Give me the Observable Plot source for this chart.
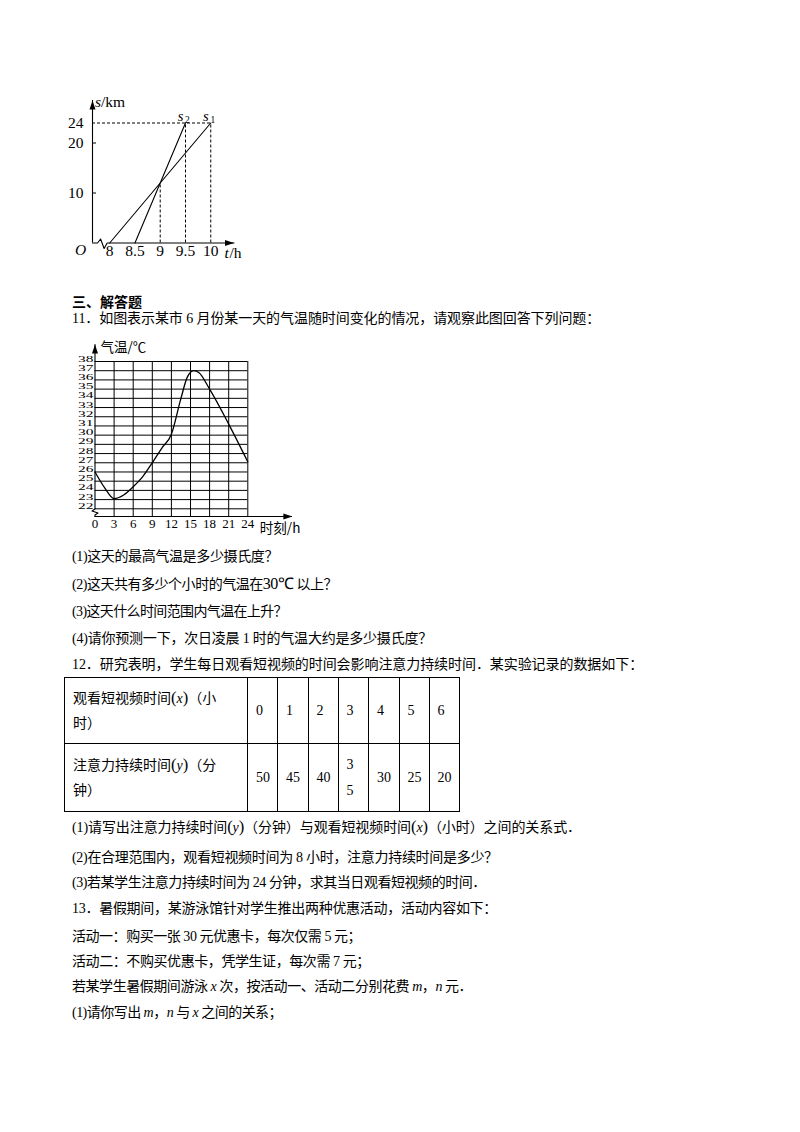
<!DOCTYPE html>
<html lang="zh">
<head>
<meta charset="utf-8">
<script src="https://cdn.jsdelivr.net/npm/d3@7"></script>
<script src="https://cdn.jsdelivr.net/npm/@observablehq/plot@0.6"></script>
<style>
html,body{margin:0;padding:0;background:#fff;}
body{width:800px;height:1132px;position:relative;overflow:hidden;font-family:"Liberation Serif","Noto Sans CJK SC",serif;color:#000;}
.ln{position:absolute;left:72px;font-size:14px;line-height:20px;height:20px;white-space:nowrap;margin-top:-10px;}
.i{font-style:italic;font-family:"Liberation Serif",serif;}
.b{font-weight:bold;}
.p{font-family:"Liberation Serif",serif;font-size:16.5px;}
.big{font-family:"Liberation Serif",serif;font-size:16px;}
#tbl{position:absolute;left:64px;top:677px;border-collapse:collapse;table-layout:fixed;width:395px;font-size:14px;}
#tbl td{border:1.3px solid #000;padding:0 0 0 8px;vertical-align:middle;line-height:25.5px;overflow:hidden;white-space:nowrap;}
.chart{position:absolute;left:0;}
.chart svg{overflow:visible;}
</style>
</head>
<body>
<div id="c1" class="chart" style="top:0"></div>
<div id="c2" class="chart" style="top:330px"></div>

<div class="ln b" style="top:302.5px" data-end="142">三、解答题</div>
<div class="ln" style="top:319px" data-end="600">11．如图表示某市 6 月份某一天的气温随时间变化的情况，请观察此图回答下列问题：</div>
<div class="ln" style="top:556.5px" data-end="278">(1)这天的最高气温是多少摄氏度？</div>
<div class="ln" style="top:584px" data-end="337">(2)这天共有多少个小时的气温在<span class="big">30℃</span> 以上？</div>
<div class="ln" style="top:611.5px" data-end="287">(3)这天什么时间范围内气温在上升？</div>
<div class="ln" style="top:639px" data-end="432">(4)请你预测一下，次日凌晨 1 时的气温大约是多少摄氏度？</div>
<div class="ln" style="top:665px" data-end="643">12．研究表明，学生每日观看短视频的时间会影响注意力持续时间．某实验记录的数据如下：</div>

<table id="tbl"></table>

<div class="ln" style="top:827px" data-end="581">(1)请写出注意力持续时间<span class="p">(</span><span class="i">y</span><span class="p">)</span>（分钟）与观看短视频时间<span class="p">(</span><span class="i">x</span><span class="p">)</span>（小时）之间的关系式．</div>
<div class="ln" style="top:857.5px" data-end="498">(2)在合理范围内，观看短视频时间为 8 小时，注意力持续时间是多少？</div>
<div class="ln" style="top:883px" data-end="486">(3)若某学生注意力持续时间为 24 分钟，求其当日观看短视频的时间．</div>
<div class="ln" style="top:908.5px" data-end="497">13．暑假期间，某游泳馆针对学生推出两种优惠活动，活动内容如下：</div>
<div class="ln" style="top:936.5px" data-end="361">活动一：购买一张 30 元优惠卡，每次仅需 5 元；</div>
<div class="ln" style="top:961.5px" data-end="370">活动二：不购买优惠卡，凭学生证，每次需 7 元；</div>
<div class="ln" style="top:987px" data-end="472">若某学生暑假期间游泳 <span class="i">x</span> 次，按活动一、活动二分别花费 <span class="i">m</span>，<span class="i">n</span> 元．</div>
<div class="ln" style="top:1013px" data-end="282">(1)请你写出 <span class="i">m</span>，<span class="i">n</span> 与 <span class="i">x</span> 之间的关系；</div>

<script>
// ---------- Chart 1 data: distance s (km) vs time t (h) ----------
const tTicks1 = [8, 8.5, 9, 9.5, 10];
const sTicks1 = [10, 20, 24];
const sMinorTicks1 = [10, 20];
const s1Line = [{t: 8, s: 0}, {t: 10, s: 24}];
const s2Line = [{t: 8.5, s: 0}, {t: 9.5, s: 24}];
const guideV1 = [{t: 9, s: 12}, {t: 9.5, s: 24}, {t: 10, s: 24}];
const guideH1 = [{t: 10, s: 24}];
const seriesLabels1 = [{t: 9.5, s: 24, sub: "2"}, {t: 10, s: 24, sub: "1"}];

// ---------- Chart 2 data: temperature (°C) vs hour ----------
const hours2 = [0, 3, 6, 9, 12, 15, 18, 21, 24];
const tempTicks2 = [22, 23, 24, 25, 26, 27, 28, 29, 30, 31, 32, 33, 34, 35, 36, 37, 38];
const tempCurve = [
  {h: 0, c: 26}, {h: 1.5, c: 24.3}, {h: 3, c: 23.1}, {h: 4.5, c: 23.5}, {h: 6, c: 24.4},
  {h: 7.5, c: 25.5}, {h: 9, c: 27}, {h: 10.5, c: 28.6}, {h: 12, c: 30.1}, {h: 13.5, c: 34},
  {h: 14.5, c: 36.3}, {h: 15.5, c: 37}, {h: 16.3, c: 36.8}, {h: 18, c: 35}, {h: 21, c: 31.2}, {h: 24, c: 27.1}
];

// ---------- Table data ----------
const tableX = [0, 1, 2, 3, 4, 5, 6];
const tableY = [50, 45, 40, 35, 30, 25, 20];
const tableWrapped = [35];

// ---------- layout helpers ----------
const arrowUp = {draw(ctx) { ctx.moveTo(0, 0); ctx.lineTo(3, 9); ctx.lineTo(-3, 9); ctx.closePath(); }};
const arrowRight = {draw(ctx) { ctx.moveTo(0, 0); ctx.lineTo(-9, -3); ctx.lineTo(-9, 3); ctx.closePath(); }};
const serif = "Liberation Serif";

// Chart 1 frame (axis origin is at t0 with an axis break)
const c1 = {t0: 7.66, tTip: 10.46, sTip: 28.5};
const xBreak1 = [{t: c1.t0, s: 0}, {t: 7.76, s: 0}, {t: 7.82, s: 0.8}, {t: 7.89, s: -1.1}, {t: 7.95, s: 0}, {t: c1.tTip, s: 0}];

const chart1 = Plot.plot({
  width: 800, height: 270,
  x: {domain: [c1.t0, c1.tTip], range: [92, 233.5], axis: null},
  y: {domain: [0, 24], range: [242.5, 122.5], axis: null},
  marks: [
    Plot.ruleX(guideV1, {x: "t", y1: () => 0, y2: "s", stroke: "#000", strokeWidth: 1, strokeDasharray: "3,2"}),
    Plot.ruleY(guideH1, {y: "s", x1: () => c1.t0, x2: "t", stroke: "#000", strokeWidth: 1, strokeDasharray: "3,2"}),
    Plot.line(s1Line, {x: "t", y: "s", stroke: "#000", strokeWidth: 1.1}),
    Plot.line(s2Line, {x: "t", y: "s", stroke: "#000", strokeWidth: 1.1}),
    // axes
    Plot.line(xBreak1, {x: "t", y: "s", stroke: "#000", strokeWidth: 1.1}),
    Plot.ruleX([c1.t0], {x: d => d, y1: () => 0, y2: () => c1.sTip, stroke: "#000", strokeWidth: 1.1}),
    Plot.dot([c1.t0], {x: d => d, y: () => c1.sTip, symbol: arrowUp, fill: "#000", stroke: "none"}),
    Plot.dot([c1.tTip], {x: d => d, y: () => 0, symbol: arrowRight, fill: "#000", stroke: "none"}),
    Plot.ruleY(sMinorTicks1, {y: d => d, x1: () => c1.t0, x2: () => c1.t0 + 0.08, stroke: "#000", strokeWidth: 1}),
    // tick labels
    Plot.text(sTicks1, {x: () => c1.t0, y: d => d, text: d => String(d), textAnchor: "end", dx: -9, fontSize: 15.5, fontFamily: serif, fill: "#000"}),
    Plot.text(tTicks1, {x: d => d, y: () => 0, text: d => String(d), dy: 8.5, fontSize: 15.5, fontFamily: serif, fill: "#000"}),
    Plot.text(["O"], {x: () => c1.t0, y: () => 0, text: d => d, dx: -12, dy: 7, fontSize: 15.5, fontStyle: "italic", fontFamily: serif, fill: "#000"}),
    // axis titles
    Plot.text(["s"], {x: () => c1.t0, y: () => c1.sTip, text: d => d, textAnchor: "start", dx: 2.5, dy: 2, fontSize: 15.5, fontStyle: "italic", fontFamily: serif, fill: "#000"}),
    Plot.text(["/km"], {x: () => c1.t0, y: () => c1.sTip, text: d => d, textAnchor: "start", dx: 8.5, dy: 2, fontSize: 15.5, fontFamily: serif, fill: "#000"}),
    Plot.text(["t"], {x: () => c1.tTip, y: () => 0, text: d => d, textAnchor: "start", dx: -9.5, dy: 10, fontSize: 15.5, fontStyle: "italic", fontFamily: serif, fill: "#000"}),
    Plot.text(["/h"], {x: () => c1.tTip, y: () => 0, text: d => d, textAnchor: "start", dx: -4.5, dy: 10, fontSize: 15.5, fontFamily: serif, fill: "#000"}),
    // series labels s2, s1
    Plot.text(seriesLabels1, {x: "t", y: "s", text: () => "s", textAnchor: "middle", dx: -5, dy: -7, fontSize: 14.5, fontStyle: "italic", fontFamily: serif, fill: "#000"}),
    Plot.text(seriesLabels1, {x: "t", y: "s", text: "sub", textAnchor: "middle", dx: 2, dy: -3.5, fontSize: 9.5, fontFamily: serif, fill: "#000"})
  ]
});
document.getElementById("c1").append(chart1);

// Chart 2 frame
const c2 = {axisC: 21.16, cTip: 39.85, hTip: 31.0};
const yBreak2 = [{h: 0, c: c2.axisC}, {h: 0, c: 21.33}, {h: 0.47, c: 21.54}, {h: -0.47, c: 21.76}, {h: 0, c: 21.98}, {h: 0, c: c2.cTip}];

const chart2 = Plot.plot({
  width: 800, height: 215,
  x: {domain: [0, 24], range: [94.5, 247.3], axis: null},
  y: {domain: [22, 38], range: [178.3, 31], axis: null},
  marks: [
    // grid
    Plot.ruleY(tempTicks2, {y: d => d, x1: () => 0, x2: () => 24, stroke: "#000", strokeWidth: 1}),
    Plot.ruleX(hours2.filter(h => h > 0), {x: d => d, y1: () => c2.axisC, y2: () => 38, stroke: "#000", strokeWidth: 1}),
    // axes
    Plot.line(yBreak2, {x: "h", y: "c", stroke: "#000", strokeWidth: 1.1}),
    Plot.ruleY([c2.axisC], {y: d => d, x1: () => 0, x2: () => c2.hTip, stroke: "#000", strokeWidth: 1.1}),
    Plot.dot([0], {x: d => d, y: () => c2.cTip, symbol: arrowUp, fill: "#000", stroke: "none"}),
    Plot.dot([c2.hTip], {x: d => d, y: () => c2.axisC, symbol: arrowRight, fill: "#000", stroke: "none"}),
    // curve
    Plot.line(tempCurve, {x: "h", y: "c", curve: "monotone-x", stroke: "#000", strokeWidth: 1.3}),
    // tick labels
    Plot.text(hours2, {x: d => d, y: () => c2.axisC, text: d => String(d), dy: 7, fontSize: 13, fontFamily: serif, fill: "#000"}),
    Plot.text(tempTicks2, {x: () => 0, y: d => d, text: d => String(d), textAnchor: "end", dx: -1.5, fontSize: 14, fontFamily: serif, fill: "#000"}),
    // axis titles
    Plot.text(["气温/℃"], {x: () => 0, y: () => c2.cTip, text: d => d, textAnchor: "start", dx: 5.5, dy: 3, fontSize: 13.5, fontFamily: "Noto Sans CJK SC", fill: "#000"}),
    Plot.text(["时刻/h"], {x: () => c2.hTip, y: () => c2.axisC, text: d => d, textAnchor: "end", dx: 8, dy: 12, fontSize: 13.5, fontFamily: "Noto Sans CJK SC", fill: "#000"})
  ]
});
document.getElementById("c2").append(chart2);

// The reference's temperature labels are compressed vertically to fit the 1°C rows:
// re-place each label at its scale position and squeeze it.
{
  const xs = chart2.scale("x"), ys = chart2.scale("y");
  const groups = Array.from(chart2.querySelectorAll('g[aria-label="text"]'));
  const yl = groups.find(g => g.querySelectorAll("text").length === tempTicks2.length);
  if (yl && xs && ys) {
    yl.querySelectorAll("text").forEach((t, i) => {
      const px = xs.apply(0), py = ys.apply(tempTicks2[i]);
      if (!isFinite(px) || !isFinite(py)) return;
      t.removeAttribute("x"); t.removeAttribute("y");
      t.setAttribute("transform", `translate(${px},${py}) scale(1.1,0.6)`);
    });
  }
}

// ---------- Table ----------
const colW = [183, 30, 30.5, 30, 30.5, 30.5, 30, 30.5];
const tbl = document.getElementById("tbl");
tbl.innerHTML =
  "<colgroup>" + colW.map(w => `<col style="width:${w}px">`).join("") + "</colgroup>" +
  `<tr style="height:66px"><td>观看短视频时间<span class="p">(</span><span class="i">x</span><span class="p">)</span>（小<br>时）</td>` +
  tableX.map(v => `<td>${v}</td>`).join("") + "</tr>" +
  `<tr style="height:68px"><td>注意力持续时间<span class="p">(</span><span class="i">y</span><span class="p">)</span>（分<br>钟）</td>` +
  tableY.map(v => `<td>${tableWrapped.includes(v) ? String(v).split("").join("<br>") : v}</td>`).join("") + "</tr>";

// ---------- fit text line widths ----------
function fitLines() {
  document.querySelectorAll(".ln[data-end]").forEach(el => {
    el.style.letterSpacing = "0px";
    const w = el.getBoundingClientRect().width;
    const n = Array.from(el.textContent).length;
    const target = +el.dataset.end - el.offsetLeft;
    let ls = (target - w) / n;
    ls = Math.max(-1.5, Math.min(4, ls));
    el.style.letterSpacing = ls.toFixed(2) + "px";
  });
}
fitLines();
if (document.fonts && document.fonts.ready) document.fonts.ready.then(fitLines);
</script>
</body>
</html>
